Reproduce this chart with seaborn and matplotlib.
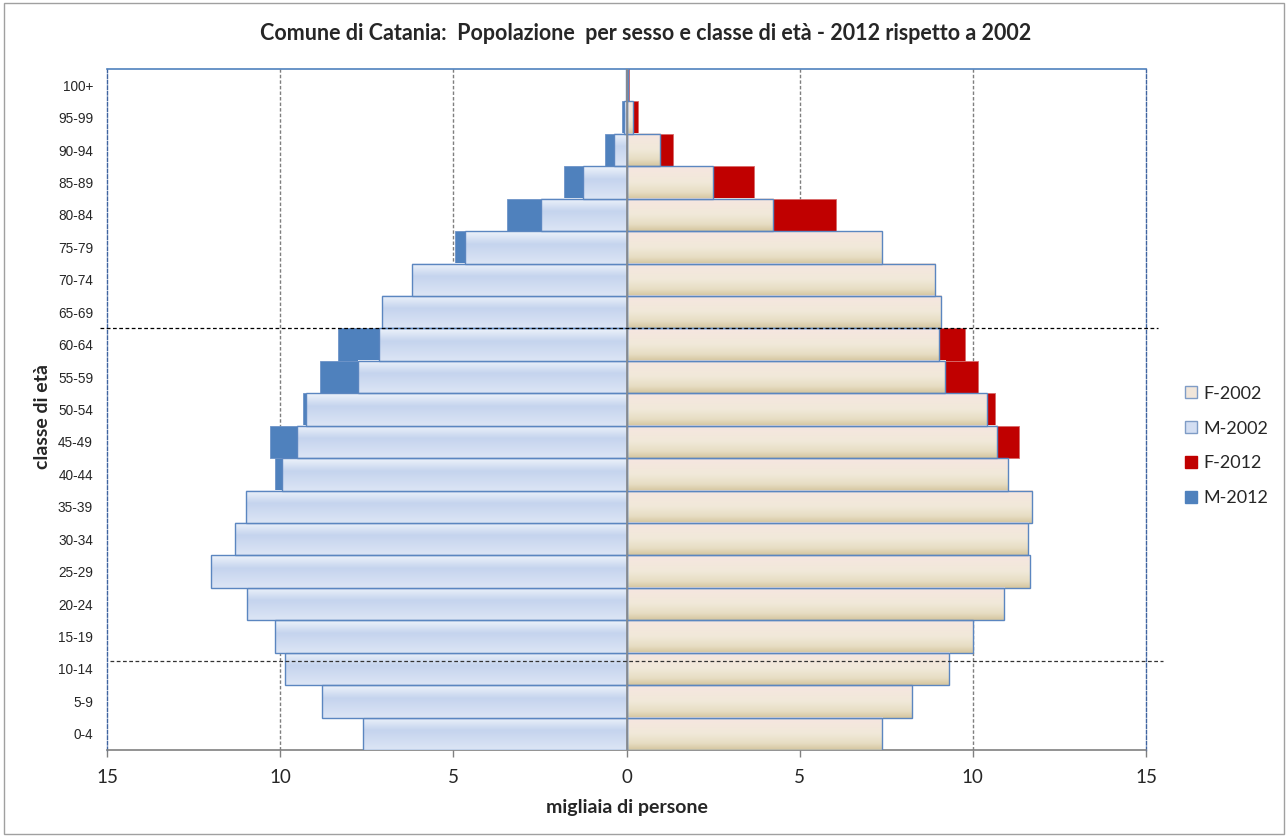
import numpy as np
import pandas as pd
import matplotlib
matplotlib.use("Agg")
import matplotlib.pyplot as plt
import seaborn as sns
from matplotlib.colors import LinearSegmentedColormap
from matplotlib.patches import Patch, Rectangle

# ---- data (thousands of people), ages from youngest to oldest ----
ages = ['0-4', '5-9', '10-14', '15-19', '20-24', '25-29', '30-34', '35-39',
        '40-44', '45-49', '50-54', '55-59', '60-64', '65-69', '70-74',
        '75-79', '80-84', '85-89', '90-94', '95-99', '100+']
m2002 = [7.62, 8.80, 9.85, 10.16, 10.97, 11.99, 11.30, 10.99, 9.96, 9.51, 9.24,
         7.76, 7.16, 7.07, 6.19, 4.67, 2.46, 1.26, 0.35, 0.06, 0.01]
f2002 = [7.39, 8.24, 9.31, 10.00, 10.91, 11.65, 11.60, 11.72, 11.02, 10.71, 10.41,
         9.21, 9.02, 9.09, 8.90, 7.39, 4.24, 2.50, 0.98, 0.19, 0.03]
m2012 = [7.30, 7.60, 8.20, 8.80, 9.40, 9.50, 9.60, 9.90, 10.14, 10.29, 9.35,
         8.84, 8.32, 6.50, 5.90, 4.94, 3.45, 1.80, 0.63, 0.12, 0.02]
f2012 = [7.00, 7.30, 7.90, 8.50, 9.30, 9.80, 10.20, 10.60, 10.90, 11.33, 10.63,
         10.14, 9.76, 8.00, 7.90, 7.20, 6.04, 3.68, 1.35, 0.32, 0.06]
xticks = [-15, -10, -5, 0, 5, 10, 15]
xticklabels = ['15', '10', '5', '0', '5', '10', '15']

df = pd.DataFrame({'age': ages,
                   'M2002': [-v for v in m2002], 'F2002': f2002,
                   'M2012': [-v for v in m2012], 'F2012': f2012})
order = ages[::-1]

sns.set_theme(style='white')
plt.rcParams['font.family'] = ['Lato', 'DejaVu Sans']

W, H = 1287, 839
fig = plt.figure(figsize=(W / 100, H / 100), dpi=100)
ax = fig.add_axes([107 / W, 1 - 750 / H, (1146 - 107) / W, (750 - 69) / H])

# grid lines behind bars
for v in [-10, -5, 5, 10]:
    ax.axvline(v, color='#7f7f7f', ls=(0, (2.5, 1.5)), lw=1, zorder=0.5)

# 2012 bars (solid, behind)
sns.barplot(data=df, x='M2012', y='age', order=order, orient='h', color='#4f81bd',
            saturation=1, width=1.0, edgecolor='#6d93c8', linewidth=0.6, ax=ax, zorder=2)
sns.barplot(data=df, x='F2012', y='age', order=order, orient='h', color='#c00000',
            saturation=1, width=1.0, edgecolor='#d76a6a', linewidth=0.6, ax=ax, zorder=2)

cmap_m = LinearSegmentedColormap.from_list('m', [(0, '#eef3fb'), (0.4, '#c5d4ee'), (1, '#dce5f5')])
cmap_f = LinearSegmentedColormap.from_list('f', [(0, '#f6e6e1'), (0.5, '#f1e9d9'),
                                                 (0.8, '#e7ddc3'), (1, '#d5c6a0')])
grad = np.linspace(0, 1, 64).reshape(-1, 1)

for col, cmap, base in [('M2002', cmap_m, '#c6d4ee'), ('F2002', cmap_f, '#f0e8d8')]:
    n0 = len(ax.patches)
    sns.barplot(data=df, x=col, y='age', order=order, orient='h', color=base,
                saturation=1, width=1.0, edgecolor='#5b86c0', linewidth=1.0, ax=ax, zorder=4)
    for p in ax.patches[n0:]:
        x0, w = p.get_x(), p.get_width()
        y0, h = p.get_y(), p.get_height()
        if abs(w) < 1e-9:
            continue
        ax.imshow(grad, extent=(min(x0, x0 + w), max(x0, x0 + w), y0 + h, y0),
                  origin='upper', aspect='auto', cmap=cmap, zorder=3,
                  interpolation='bilinear')
        p.set_facecolor('none')

ax.set_xlim(-15, 15)
ax.set_ylim(len(ages) - 0.5, -0.5)

# center line
ax.axvline(0, color='#8a8a8a', lw=1.2, zorder=5)

# horizontal dashed markers extending beyond plot
ax.plot([-15.2, 15.35], [7.5, 7.5], color='black', ls=(0, (3, 2)), lw=0.9,
        clip_on=False, zorder=6)
ax.plot([-14.9, 15.5], [17.75, 17.75], color='#333333', ls=(0, (3, 2)), lw=0.9,
        clip_on=False, zorder=6)

# spines
for s in ['left', 'right']:
    ax.spines[s].set_color('#3f64a0')
    ax.spines[s].set_linestyle((0, (2.5, 1.5)))
    ax.spines[s].set_linewidth(1)
ax.spines['top'].set_color('#4f81bd')
ax.spines['top'].set_linewidth(1.2)
ax.spines['bottom'].set_color('#808080')
ax.spines['bottom'].set_linewidth(1.2)

ax.set_xticks(xticks)
ax.set_xticklabels(xticklabels)
ax.tick_params(axis='x', direction='out', length=5, width=1, color='#808080',
               labelsize=13.5, pad=9, bottom=True)
ax.tick_params(axis='y', length=0, pad=10)
for lab in ax.get_yticklabels():
    lab.set_fontfamily(['Liberation Sans Narrow', 'Liberation Sans', 'DejaVu Sans'])
    lab.set_fontsize(9.8)
ax.set_xlabel('')
ax.set_ylabel('')

fig.text(646 / W, 1 - 33 / H,
         'Comune di Catania:  Popolazione  per sesso e classe di età - 2012 rispetto a 2002',
         ha='center', va='center', fontsize=15.5, fontweight='bold')
fig.text(627 / W, 1 - 808 / H, 'migliaia di persone', ha='center', va='center',
         fontsize=14, fontweight='bold')
fig.text(43 / W, 1 - 417 / H, 'classe di età', ha='center', va='center',
         rotation=90, fontsize=14, fontweight='bold')

handles = [Patch(facecolor='#f1e6da', edgecolor='#7f9cc6', label='F-2002'),
           Patch(facecolor='#d3def2', edgecolor='#7f9cc6', label='M-2002'),
           Patch(facecolor='#c00000', edgecolor='#c00000', label='F-2012'),
           Patch(facecolor='#4f81bd', edgecolor='#4f81bd', label='M-2012')]
fig.legend(handles=handles, loc='center left', bbox_to_anchor=(1169 / W, 1 - 446 / H),
           frameon=False, fontsize=13, handlelength=0.65, handleheight=0.65,
           handletextpad=0.35, labelspacing=1.05)

fig.add_artist(Rectangle((4 / W, 5 / H), 1 - 7 / W, 1 - 8 / H, transform=fig.transFigure,
                         fill=False, edgecolor='#a0a0a0', lw=1))

fig.savefig('out.png', dpi=100)
